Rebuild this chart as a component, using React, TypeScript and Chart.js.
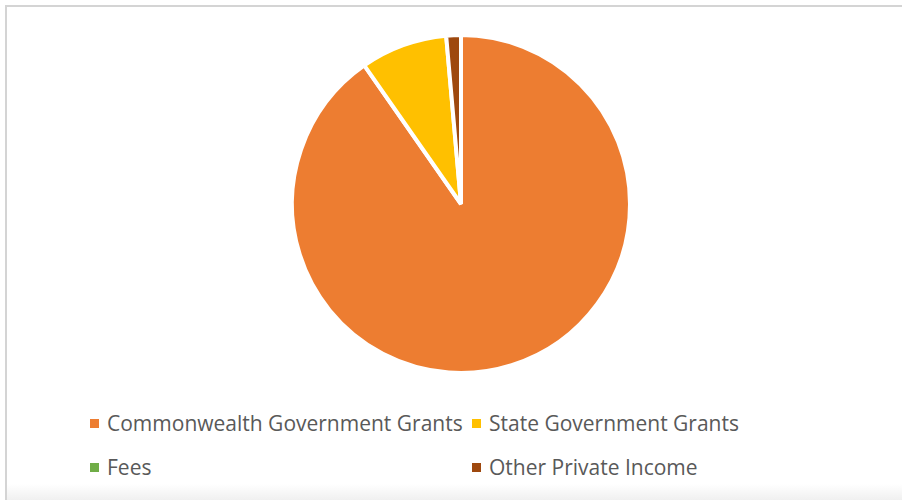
import React, { useEffect, useRef } from "react";
import { Chart, registerables } from "chart.js";

Chart.register(...registerables);

const categories = [
  "Commonwealth Government Grants",
  "State Government Grants",
  "Fees",
  "Other Private Income",
];
const shares = [90.3, 8.3, 0, 1.4];
const colors = ["#ED7D31", "#FFC000", "#70AD47", "#9E480E"];

export default function App() {
  const ref = useRef<HTMLCanvasElement | null>(null);

  useEffect(() => {
    document.body.style.margin = "0";
    const chart = new Chart(ref.current as HTMLCanvasElement, {
      type: "pie",
      data: {
        labels: categories,
        datasets: [
          {
            data: shares,
            backgroundColor: colors,
            borderColor: "#FFFFFF",
            borderWidth: 4,
          },
        ],
      },
      options: {
        responsive: false,
        animation: false,
        layout: { padding: { left: 20, top: 33, bottom: 5, right: 0 } },
        plugins: {
          legend: { display: false },
          tooltip: { enabled: false },
        },
      },
    });
    return () => chart.destroy();
  }, []);

  const legendPos = [
    { x: 90, y: 423 },
    { x: 472, y: 423 },
    { x: 90, y: 467 },
    { x: 472, y: 467 },
  ];

  return (
    <div
      style={{
        position: "relative",
        width: 902,
        height: 500,
        background: "#fff",
        overflow: "hidden",
        fontFamily: "'Open Sans', sans-serif",
      }}
    >
      <div
        style={{
          position: "absolute",
          left: 5,
          top: 5,
          width: 897,
          height: 495,
          borderTop: "2px solid #D4D4D4",
          borderLeft: "2px solid #D4D4D4",
          boxSizing: "border-box",
        }}
      />
      <div
        style={{
          position: "absolute",
          left: 7,
          top: 484,
          width: 895,
          height: 16,
          background: "linear-gradient(#ffffff, #f0f0f0)",
        }}
      />
      <canvas
        ref={ref}
        width={902}
        height={380}
        style={{ position: "absolute", left: 0, top: 0 }}
      />
      {categories.map((c, i) => (
        <div
          key={c}
          style={{
            position: "absolute",
            left: legendPos[i].x,
            top: legendPos[i].y - 14,
            height: 28,
            display: "flex",
            alignItems: "center",
            whiteSpace: "nowrap",
            color: "#595959",
            fontSize: 21,
          }}
        >
          <span
            style={{
              display: "inline-block",
              width: 9,
              height: 9,
              background: colors[i],
              marginRight: 8,
            }}
          />
          {c}
        </div>
      ))}
    </div>
  );
}
